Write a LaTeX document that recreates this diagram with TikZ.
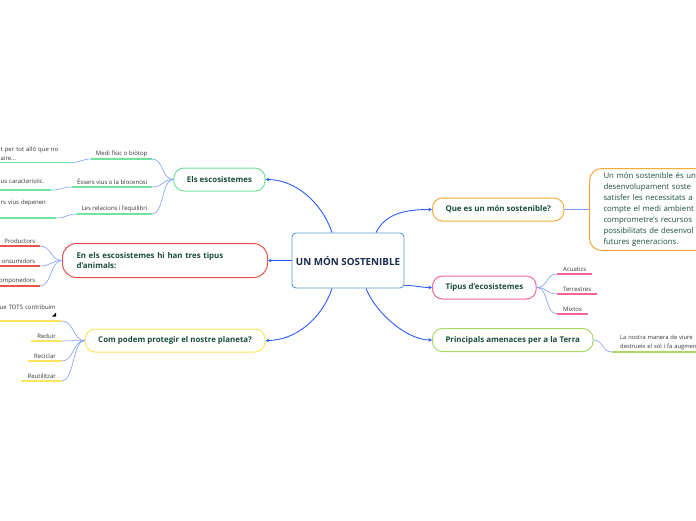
\documentclass[tikz,border=0pt]{standalone}
\usepackage{fontspec}
\setmainfont{Open Sans}
\usetikzlibrary{arrows.meta, positioning}

\definecolor{mainblue}{HTML}{2B5CFF}
\definecolor{twigblue}{HTML}{7C9CFF}
\definecolor{rootblue}{HTML}{5B9BD5}
\definecolor{rootink}{HTML}{1A2B4C}
\definecolor{ink}{HTML}{1B4D3E}
\definecolor{ecogreen}{HTML}{72E39B}
\definecolor{animred}{HTML}{E8534A}
\definecolor{protyellow}{HTML}{FFE35C}
\definecolor{whatorange}{HTML}{F7A93A}
\definecolor{typepink}{HTML}{F2668F}
\definecolor{threatgreen}{HTML}{A6D862}

\begin{document}
\begin{tikzpicture}[x=1pt, y=-1pt,
  root/.style={draw=rootblue, fill=white, rounded corners=4pt, line width=0.9pt, font=\bfseries\fontsize{9.8}{11}\selectfont, text=rootink, minimum width=112pt, minimum height=55pt, inner xsep=2pt},
  topic/.style={draw=#1, fill=white, rounded corners=10pt, line width=1pt, font=\bfseries\fontsize{7.9}{10}\selectfont, text=ink, minimum height=23pt, inner xsep=13pt},
  leaf/.style={font=\fontsize{6}{9}\selectfont, text=black!80, inner xsep=4.5pt, inner ysep=2pt, append after command={(\tikzlastnode.south west) edge[line width=1.3pt, draw=#1] (\tikzlastnode.south east)}},
  link/.style={draw=mainblue, line width=0.9pt, -{Stealth[length=3.5pt, width=3.5pt]}},
  twig/.style={draw=twigblue, line width=0.6pt}
]
\useasboundingbox (0,0) rectangle (696,520);
\clip (0,0) rectangle (696,520);

% centre and main topics
\node[root] (root) at (348,260.5) {UN MÓN SOSTENIBLE};
\node[topic=ecogreen, anchor=east] (ecos) at (265.5,179.5) {Els escosistemes};
\node[topic=animred, anchor=east, align=left, text width=177pt, minimum height=34pt, rounded corners=14pt, inner xsep=14pt] (animals) at (268,260.5) {En els escosistemes hi han tres tipus\\d’animals:};
\node[topic=protyellow, anchor=east] (protect) at (265.5,340.5) {Com podem protegir el nostre planeta?};
\node[topic=whatorange, anchor=west] (what) at (432,209.5) {Que es un món sostenible?};
\node[topic=typepink, anchor=west] (types) at (432,287.5) {Tipus d’ecosistemes};
\node[topic=threatgreen, anchor=west] (threats) at (432,340) {Principals amenaces per a la Terra};

\draw[link] ([xshift=-16pt]root.north) .. controls +(-10,-30) and +(30,0) .. (ecos.east);
\draw[link] ([xshift=28pt]root.north) .. controls +(10,-20) and +(-25,0) .. (what.west);
\draw[link] (root.west) -- (animals.east);
\draw[link] ([xshift=-16pt]root.south) .. controls +(-10,30) and +(30,0) .. (protect.east);
\draw[link] ([yshift=3pt]root.south east) .. controls +(12,0) and +(-12,0) .. (types.west);
\draw[link] ([xshift=18pt]root.south) .. controls +(10,25) and +(-25,0) .. (threats.west);

% definition box
\node[draw=whatorange, rounded corners=12pt, line width=1pt, anchor=west, text width=110pt, align=left, inner xsep=14pt, inner ysep=4pt, font=\fontsize{7.8}{11}\selectfont, text=ink] (defn) at (589,209.5) {Un món sostenible és un\\desenvolupament soste\\satisfer les necessitats a\\compte el medi ambient\\comprometre’s recursos\\possibilitats de desenvol\\futures generacions.};
\draw[twig] (what.east) -- (defn.west);

% ecosystem parts
\node[leaf=ecogreen, anchor=south east] (biotop) at (152,159) {Medi físic o biòtop};
\node[leaf=ecogreen, anchor=south east] (biocen) at (152,187) {Éssers vius o la biocenosi};
\node[leaf=ecogreen, anchor=south east] (equil) at (152,214) {Les relacions i l’equilibri};
\node[leaf=ecogreen, anchor=south west, text width=66pt, align=left] (biotopnote) at (-4,162.5) {t per tot allò que no\\aire...};
\node[leaf=ecogreen, anchor=south west, text width=46pt, align=left, inner ysep=6pt] (biocennote) at (-4,190) {us caracteristic.};
\node[leaf=ecogreen, anchor=south west, text width=51pt, align=left, inner ysep=12pt] (equilnote) at (-4,218) {rs vius depenen};
\foreach \n in {biotop, biocen, equil}
  \draw[twig] (ecos.west) .. controls +(-12,0) and +(12,0) .. (\n.south east);
\draw[twig] (biotop.south west) .. controls +(-10,0) and +(10,0) .. (biotopnote.south east);
\draw[twig] (biocen.south west) .. controls +(-10,0) and +(10,0) .. (biocennote.south east);
\draw[twig] (equil.south west) .. controls +(-10,0) and +(10,0) .. (equilnote.south east);

% animals
\node[leaf=animred, anchor=south east] (prod) at (40,246) {Productors};
\node[leaf=animred, anchor=south east] (cons) at (40,266) {onsumidors};
\node[leaf=animred, anchor=south east] (desc) at (40,286) {omponedors};
\foreach \n in {prod, cons, desc}
  \draw[twig] (animals.west) .. controls +(-12,0) and +(12,0) .. (\n.south east);

% protect the planet
\node[leaf=protyellow, anchor=south east, text width=66pt, align=right, inner xsep=6pt, inner ysep=11pt] (tots) at (62,321) {ue TOTS contribuim};
\fill (56,312.5) -- (56,316.5) -- (52,316.5) -- cycle;
\node[leaf=protyellow, anchor=south east, inner xsep=6pt] (reduir) at (62,341) {Reduir};
\node[leaf=protyellow, anchor=south east, inner xsep=6pt] (reciclar) at (62,361) {Reciclar};
\node[leaf=protyellow, anchor=south east, inner xsep=6pt] (reutil) at (62,381) {Reutilitzar};
\foreach \n in {tots, reduir, reciclar, reutil}
  \draw[twig] (protect.west) .. controls +(-12,0) and +(12,0) .. (\n.south east);

% kinds of ecosystems
\node[leaf=typepink, anchor=south west, inner xsep=6pt] (aqua) at (557,274) {Acuatics};
\node[leaf=typepink, anchor=south west, inner xsep=6pt] (terra) at (557,294) {Terrestres};
\node[leaf=typepink, anchor=south west, inner xsep=6pt] (mixt) at (557,314) {Mixtos};
\foreach \n in {aqua, terra, mixt}
  \draw[twig] (types.east) .. controls +(12,0) and +(-12,0) .. (\n.south west);

% threats
\node[leaf=threatgreen, anchor=south west, text width=100pt, align=left, inner xsep=8pt, font=\fontsize{5.8}{9}\selectfont] (life) at (612,352) {La nostra manera de viure\\destrueix el sòl i fa augmen};
\draw[twig] (threats.east) .. controls +(10,0) and +(-10,0) .. (life.south west);

\end{tikzpicture}
\end{document}
